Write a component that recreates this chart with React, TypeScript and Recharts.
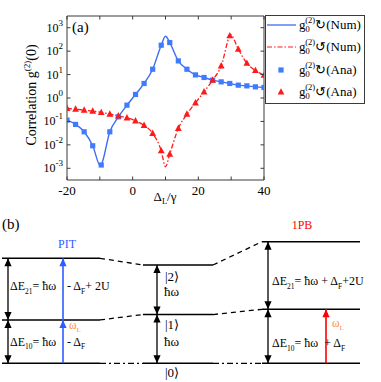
import React from 'react';
import { ComposedChart, Line, Scatter, XAxis, YAxis, Legend, ReferenceLine, ReferenceDot } from 'recharts';

const FONT = "'Liberation Serif', 'Times New Roman', serif";
const AXIS = '#3a3a3a';
const BLUE = '#3d6cf5';
const BLUE_MK = '#3f7bff';
const RED = '#ff1a1a';
const ORANGE = '#ff8a3d';

// ---------- panel (a) data ----------
const detuning = [-20, -17.39, -14.78, -12.17, -9.57, -6.96, -4.35, -1.74, 0.87, 3.48, 6.09, 8.7, 11.3, 13.91, 16.52, 19.13, 21.74, 24.35, 26.96, 29.57, 32.17, 34.78, 37.39, 40];
const g2CwAna = [0.114, 0.0746, 0.0361, 0.00914, 0.00138, 0.0361, 0.157, 0.495, 1.42, 4.17, 16.9, 179, 233, 38.3, 16.9, 9.68, 7.52, 5.77, 4.88, 4.17, 3.53, 3.3, 2.99, 2.82];
const g2CcwAna = [0.359, 0.335, 0.303, 0.275, 0.242, 0.205, 0.173, 0.143, 0.106, 0.0676, 0.0309, 0.0056, 0.00406, 0.0505, 0.205, 0.621, 1.83, 5.77, 23.4, 454, 121, 30.5, 14.9, 9.42];
const cwExtremaX = [-9.8, 10];
const cwExtremaY = [0.00125, 432];
const ccwExtremaX = [10, 29.8];
const ccwExtremaY = [0.00116, 511];

const xTicks = [-20, -10, 0, 10, 20, 30, 40];
const xTickLabels = ['-20', '', '0', '', '20', '', '40'];
const yTicks = [1e-3, 1e-2, 1e-1, 1, 10, 100, 1000];
const yTickExps = ['-3', '-2', '-1', '0', '1', '2', '3'];
const legendLabels = ['\u21BB(Num)', '\u21BA(Num)', '\u21BB(Ana)', '\u21BA(Ana)'];

// ---------- panel (b) data (energies in units of ħω) ----------
const pitLevels = [0, 0.884, 2.143];
const bareLevels = [0, 0.995, 2.006];
const pbLevels = [0, 1.102, 2.482];

const cwMarkers = detuning.map((x, i) => ({ x, y: g2CwAna[i] }));
const ccwMarkers = detuning.map((x, i) => ({ x, y: g2CcwAna[i] }));
const cwCurve = [...cwMarkers, ...cwExtremaX.map((x, i) => ({ x, y: cwExtremaY[i] }))].sort((a, b) => a.x - b.x);
const ccwCurve = [...ccwMarkers, ...ccwExtremaX.map((x, i) => ({ x, y: ccwExtremaY[i] }))].sort((a, b) => a.x - b.x);

const Y_DOMAIN: [number, number] = [Math.pow(10, -3.5), Math.pow(10, 3.5)];

const nearestIdx = (arr: number[], v: number) => {
  let best = 0;
  arr.forEach((a, i) => {
    if (Math.abs(Math.log10(a) - Math.log10(v)) < Math.abs(Math.log10(arr[best]) - Math.log10(v))) best = i;
  });
  return best;
};

// plot frame (pixels) derived from margins + axis sizes
const PLOT_LEFT = 67;
const PLOT_RIGHT = 264;
const PLOT_TOP = 16;
const PLOT_BOTTOM = 180;

const BottomTick = (props: any) => {
  const { x, payload } = props;
  const y = PLOT_BOTTOM;
  const label = xTickLabels[xTicks.indexOf(payload.value)];
  return (
    <g>
      <line x1={x} x2={x} y1={y} y2={y - 3.5} stroke={AXIS} strokeWidth={1} />
      {label ? (
        <text x={x} y={y + 15} textAnchor="middle" fontSize={13} fontFamily={FONT} fill="#000">{label}</text>
      ) : null}
    </g>
  );
};
const TopTick = (props: any) => {
  const { x } = props;
  return <line x1={x} x2={x} y1={PLOT_TOP} y2={PLOT_TOP + 3.5} stroke={AXIS} strokeWidth={1} />;
};
const LeftTick = (props: any) => {
  const { y, payload } = props;
  const x = PLOT_LEFT;
  const e = yTickExps[nearestIdx(yTicks, payload.value)];
  return (
    <g>
      <line x1={x} x2={x + 3.5} y1={y} y2={y} stroke={AXIS} strokeWidth={1} />
      <text x={x - 4} y={y + 4} textAnchor="end" fontSize={12} fontFamily={FONT} fill="#000">
        10<tspan dy={-6} fontSize={9}>{e}</tspan>
      </text>
    </g>
  );
};
const RightTick = (props: any) => {
  const { y } = props;
  const x = PLOT_RIGHT;
  return <line x1={x} x2={x - 3.5} y1={y} y2={y} stroke={AXIS} strokeWidth={1} />;
};

const squareShape = (p: any) => <rect x={p.cx - 2.6} y={p.cy - 2.6} width={5.2} height={5.2} fill={BLUE_MK} />;
const triangleShape = (p: any) => (
  <polygon points={`${p.cx},${p.cy - 3.8} ${p.cx - 3.4},${p.cy + 2.6} ${p.cx + 3.4},${p.cy + 2.6}`} fill={RED} />
);

const G2Label = ({ x, y, tail }: { x: number; y: number; tail: string }) => (
  <text x={x} y={y} fontSize={13} fontFamily={FONT} fill="#000" style={{ whiteSpace: 'pre' }}>
    g<tspan dy={3} fontSize={8.5}>0</tspan>
    <tspan dx={-4.5} dy={-9} fontSize={8.5}>(2)</tspan>
    <tspan dy={6}>{tail}</tspan>
  </text>
);

const LegendBox = () => (
  <svg width={100} height={89} style={{ display: 'block' }}>
    <rect x={0.5} y={0.5} width={99} height={88} fill="#fff" stroke={AXIS} strokeWidth={1} />
    <line x1={2} x2={31} y1={10} y2={10} stroke={BLUE} strokeWidth={1.3} />
    <line x1={2} x2={31} y1={32} y2={32} stroke={RED} strokeWidth={1.2} strokeDasharray="5 2 1.5 2" />
    {squareShape({ cx: 16, cy: 55 })}
    {triangleShape({ cx: 16, cy: 77 })}
    {legendLabels.map((t, i) => (
      <G2Label key={i} x={34} y={[14, 36, 59, 81][i]} tail={t} />
    ))}
  </svg>
);

// ---------- panel (b) helpers ----------
type Seg = { t: string; k?: 'sub' | 'sup' };
const richShape = (segs: Seg[], size = 12, color = '#000', anchor: 'start' | 'middle' | 'end' = 'start') => (p: any) => {
  let cur = 0;
  const spans = segs.map((s, i) => {
    const target = s.k === 'sub' ? size * 0.3 : s.k === 'sup' ? -size * 0.45 : 0;
    const dy = target - cur;
    cur = target;
    return (
      <tspan key={i} dy={dy} fontSize={s.k ? size * 0.62 : size}>{s.t}</tspan>
    );
  });
  return (
    <text x={p.cx} y={p.cy} fontFamily={FONT} fontSize={size} fill={color} textAnchor={anchor} style={{ whiteSpace: 'pre' }}>
      {spans}
    </text>
  );
};
const headShape = (dir: 'up' | 'down', color: string) => (p: any) => {
  const { cx, cy } = p;
  const h = 8, w = 3.6;
  const pts = dir === 'up'
    ? `${cx},${cy} ${cx - w},${cy + h} ${cx + w},${cy + h}`
    : `${cx},${cy} ${cx - w},${cy - h} ${cx + w},${cy - h}`;
  return <polygon points={pts} fill={color} />;
};

const COL = { pit: [2, 100], bare: [143, 213], pb: [262, 360] };

function Diagram() {
  const seg = (x1: number, y1: number, x2: number, y2: number, key: string, opts: any = {}) => (
    <ReferenceLine
      key={key}
      segment={[{ x: x1, y: y1 }, { x: x2, y: y2 }]}
      stroke={opts.stroke ?? '#000'}
      strokeWidth={opts.w ?? 1.6}
      strokeDasharray={opts.dash}
      ifOverflow="visible"
    />
  );
  const dot = (x: number, y: number, shape: any, key: string) => (
    <ReferenceDot key={key} x={x} y={y} r={0} ifOverflow="visible" shape={shape} />
  );
  const els: React.ReactNode[] = [];
  [0, 1, 2].forEach((i) => {
    els.push(seg(COL.pit[0], pitLevels[i], COL.pit[1], pitLevels[i], `lp${i}`));
    els.push(seg(COL.bare[0], bareLevels[i], COL.bare[1], bareLevels[i], `lb${i}`));
    els.push(seg(COL.pb[0], pbLevels[i], COL.pb[1], pbLevels[i], `lq${i}`));
    const dash = i === 0 ? '6 3 2 3' : '5 4';
    els.push(seg(COL.pit[1], pitLevels[i], COL.bare[0], bareLevels[i], `c1${i}`, { dash, w: 1.3 }));
    els.push(seg(COL.bare[1], bareLevels[i], COL.pb[0], pbLevels[i], `c2${i}`, { dash, w: 1.3 }));
  });
  const dbl = (x: number, lv: number[], key: string) => {
    [0, 1].forEach((j) => {
      els.push(seg(x, lv[j], x, lv[j + 1], `${key}s${j}`, { w: 1.3 }));
      els.push(dot(x, lv[j + 1], headShape('up', '#000'), `${key}u${j}`));
      els.push(dot(x, lv[j], headShape('down', '#000'), `${key}d${j}`));
    });
  };
  dbl(8, pitLevels, 'ap');
  dbl(157, bareLevels, 'ab');
  dbl(268, pbLevels, 'aq');
  els.push(seg(63, pitLevels[0], 63, pitLevels[2], 'bp', { stroke: '#2f5cff', w: 1.6 }));
  els.push(dot(63, pitLevels[1], headShape('up', '#2f5cff'), 'bph1'));
  els.push(dot(63, pitLevels[2], headShape('up', '#2f5cff'), 'bph2'));
  els.push(seg(326, pbLevels[0], 326, pbLevels[1], 'rp', { stroke: '#ff0000', w: 1.6 }));
  els.push(dot(326, pbLevels[1], headShape('up', '#ff0000'), 'rph'));
  const T = (x: number, y: number, segs: Seg[], key: string, size = 12, color = '#000', anchor: any = 'start') =>
    els.push(dot(x, y, richShape(segs, size, color, anchor), key));
  T(2, 2.74, [{ t: '(b)' }], 'tb', 15);
  T(67, 2.35, [{ t: 'PIT' }], 'tpit', 12, '#2f5cff', 'middle');
  T(302, 2.74, [{ t: '1PB' }], 'tpb', 12, '#ff0000', 'middle');
  T(10, 1.496, [{ t: '\u0394E' }, { t: '21', k: 'sub' }, { t: '= \u0127\u03C9' }], 't1');
  T(67, 1.496, [{ t: '- \u0394' }, { t: 'F', k: 'sub' }, { t: '+ 2U' }], 't2');
  T(10, 0.36, [{ t: '\u0394E' }, { t: '10', k: 'sub' }, { t: '= \u0127\u03C9' }], 't3');
  T(67, 0.36, [{ t: '- \u0394' }, { t: 'F', k: 'sub' }], 't4');
  T(69, 0.7, [{ t: '\u03C9' }, { t: 'L', k: 'sub' }], 't5', 11.5, ORANGE);
  T(165, 1.68, [{ t: '|2\u27E9' }], 't6', 13);
  T(164, 1.373, [{ t: '\u0127\u03C9' }], 't7', 13);
  T(165, 0.7, [{ t: '|1\u27E9' }], 't8', 13);
  T(164, 0.353, [{ t: '\u0127\u03C9' }], 't9', 13);
  T(165, -0.28, [{ t: '|0\u27E9' }], 't10', 13);
  T(272, 1.598, [{ t: '\u0394E' }, { t: '21', k: 'sub' }, { t: '= \u0127\u03C9 + \u0394' }, { t: 'F', k: 'sub' }, { t: '+2U' }], 't11');
  T(272, 0.333, [{ t: '\u0394E' }, { t: '10', k: 'sub' }, { t: '= \u0127\u03C9  + \u0394' }, { t: 'F', k: 'sub' }], 't12');
  T(332, 0.74, [{ t: '\u03C9' }, { t: 'L', k: 'sub' }], 't13', 11.5, ORANGE);

  return (
    <ComposedChart width={381} height={182} margin={{ top: 0, right: 0, bottom: 0, left: 0 }}>
      <XAxis type="number" dataKey="x" domain={[0, 381]} hide allowDataOverflow />
      <YAxis type="number" dataKey="y" domain={[-0.382, 3.333]} hide allowDataOverflow />
      {els}
    </ComposedChart>
  );
}

export default function App() {
  return (
    <div style={{ position: 'absolute', left: 0, top: 0, width: 381, height: 382, background: '#fff' }}>
      <div style={{ position: 'absolute', left: 0, top: 0 }}>
        <ComposedChart width={381} height={210} margin={{ top: 6, right: 107, bottom: 0, left: 57 }}>
          <XAxis
            type="number" dataKey="x" domain={[-20, 40]} ticks={xTicks} allowDataOverflow
            height={30} tickSize={0} tickMargin={0} tickLine={false}
            axisLine={{ stroke: AXIS, strokeWidth: 1 }} tick={<BottomTick />} interval={0}
          />
          <XAxis
            xAxisId="top" orientation="top" type="number" dataKey="x" domain={[-20, 40]} ticks={xTicks}
            allowDataOverflow height={10} tickSize={0} tickMargin={0} tickLine={false}
            axisLine={{ stroke: AXIS, strokeWidth: 1 }} tick={<TopTick />} interval={0}
          />
          <YAxis
            type="number" dataKey="y" scale="log" domain={Y_DOMAIN} ticks={yTicks} allowDataOverflow
            width={10} tickSize={0} tickMargin={0} tickLine={false}
            axisLine={{ stroke: AXIS, strokeWidth: 1 }} tick={<LeftTick />} interval={0}
          />
          <YAxis
            yAxisId="right" orientation="right" type="number" dataKey="y" scale="log" domain={Y_DOMAIN}
            ticks={yTicks} allowDataOverflow width={10} tickSize={0} tickMargin={0} tickLine={false}
            axisLine={{ stroke: AXIS, strokeWidth: 1 }} tick={<RightTick />} interval={0}
          />
          <Line data={cwCurve} dataKey="y" type="monotone" stroke={BLUE} strokeWidth={1.4} dot={false} isAnimationActive={false} />
          <Line data={ccwCurve} dataKey="y" type="monotone" stroke={RED} strokeWidth={1.3} strokeDasharray="5 2 1.5 2" dot={false} isAnimationActive={false} />
          <Scatter data={cwMarkers} dataKey="y" shape={squareShape} isAnimationActive={false} />
          <Scatter data={ccwMarkers} dataKey="y" shape={triangleShape} isAnimationActive={false} />
          <Legend
            layout="vertical" align="center" verticalAlign="middle"
            wrapperStyle={{ left: 265, top: 15, width: 100, height: 89 }}
            content={() => <LegendBox />}
          />
        </ComposedChart>
        <svg width={381} height={210} style={{ position: 'absolute', left: 0, top: 0, pointerEvents: 'none' }}>
          <text x={72} y={32} fontSize={15} fontFamily={FONT} fill="#000">(a)</text>
          <text
            x={36} y={95} fontSize={14} fontFamily={FONT} fill="#000" textAnchor="middle"
            transform="rotate(-90 36 95)" style={{ whiteSpace: 'pre' }}
          >
            Correlation g<tspan dy={-6} fontSize={9}>(2)</tspan><tspan dy={6}>(0)</tspan>
          </text>
          <text x={165} y={201} fontSize={13} fontFamily={FONT} fill="#000" textAnchor="middle">
            {'\u0394'}<tspan dy={3} fontSize={8.5}>L</tspan><tspan dy={-3}>/{'\u03B3'}</tspan>
          </text>
        </svg>
      </div>
      <div style={{ position: 'absolute', left: 0, top: 200 }}>
        <Diagram />
      </div>
    </div>
  );
}
